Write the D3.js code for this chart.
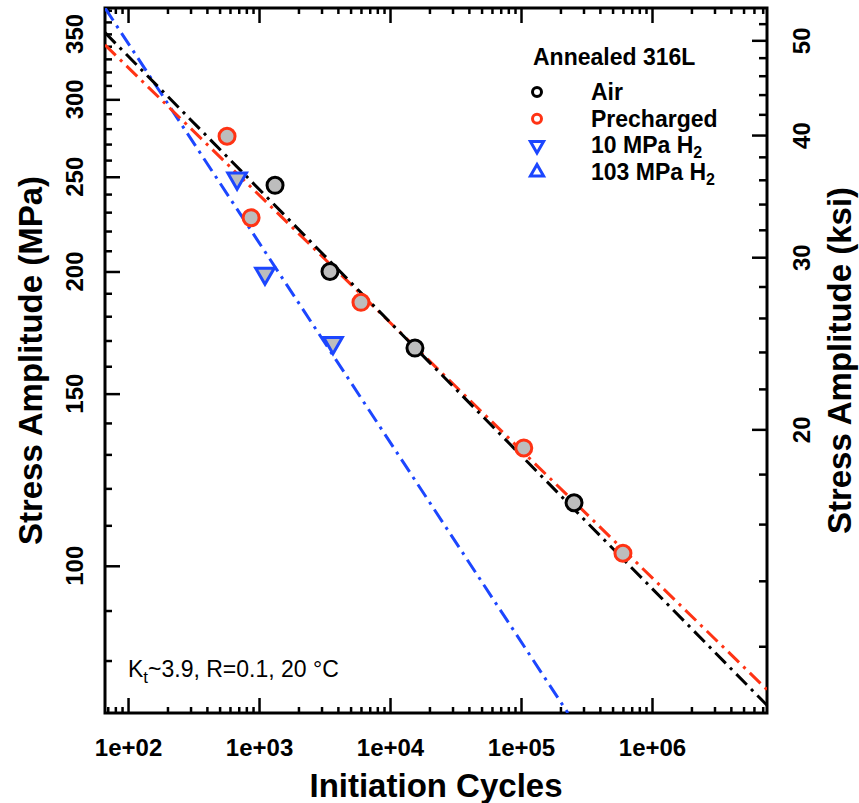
<!DOCTYPE html>
<html>
<head>
<meta charset="utf-8">
<script src="https://cdn.jsdelivr.net/npm/d3@7"></script>
<style>
  body { margin: 0; background: #fff; }
  text { font-family: "Liberation Sans", Arial, Helvetica, sans-serif; }
</style>
</head>
<body>
<div id="chart"></div>
<script>
// Data
const airN = [1325, 3480, 15500, 254000];
const airS = [245, 200, 167, 116];
const preN = [570, 870, 6000, 105000, 600000];
const preS = [275, 227, 186, 132, 103];
const h10N = [680, 1110, 3670];
const h10S = [249, 199, 169];

// fitted lines (two end points each, N vs MPa)
const fitAirN = [66.7, 7.55e6];
const fitAirS = [351, 72];
const fitPreN = [66.7, 7.55e6];
const fitPreS = [341, 74.7];
const fitH10N = [66.7, 228000];
const fitH10S = [372, 70.7];

const xMajor = [1e2, 1e3, 1e4, 1e5, 1e6];
const yLabels = [100, 150, 200, 250, 300, 350];
const ksiLabels = [20, 30, 40, 50];
const MPA_PER_KSI = 6.894757;

const dims = { width: 859, height: 803 };
const margin = { top: 8, right: 92, bottom: 90, left: 105 };
const w = dims.width - margin.left - margin.right;
const h = dims.height - margin.top - margin.bottom;

const red = "#ff3314", blue = "#1c46ff", gray = "#bdbdbd";

const svg = d3.select("#chart").append("svg")
  .attr("width", dims.width)
  .attr("height", dims.height);

const graph = svg.append("g")
  .attr("transform", `translate(${margin.left}, ${margin.top})`);

const x = d3.scaleLog().domain([66.7, 7.55e6]).range([0, w]);
const y = d3.scaleLog().domain([70.7, 372]).range([h, 0]);
const yKsi = d3.scaleLog()
  .domain(y.domain().map(d => d / MPA_PER_KSI))
  .range([h, 0]);

// minor tick values
const xMinor = [];
for (let e = 1; e <= 6; e++) {
  for (let m = 2; m <= 9; m++) {
    const v = m * Math.pow(10, e);
    if (v >= x.domain()[0] && v <= x.domain()[1]) xMinor.push(v);
  }
}
const yMinor = d3.range(80, 380, 10).filter(v => v % 50 !== 0 || v === 350);
const ksiMinor = d3.range(12, 54, 2).filter(v => v % 10 !== 0);

const fmtExp = d => "1e+" + String(Math.round(Math.log10(d))).padStart(2, "0");

// axes
const addAxis = (axis, transform) => {
  const g = graph.append("g").attr("transform", transform).call(axis);
  g.select(".domain").remove();
  g.selectAll("line").attr("stroke", "#000").attr("stroke-width", 2.5);
  return g;
};

addAxis(d3.axisBottom(x).tickValues(xMinor).tickSize(-6).tickFormat(""), `translate(0,${h})`);
const xAxisG = addAxis(d3.axisBottom(x).tickValues(xMajor).tickSize(-15).tickFormat(fmtExp), `translate(0,${h})`);
addAxis(d3.axisTop(x).tickValues(xMinor).tickSize(-6).tickFormat(""), "translate(0,0)");
addAxis(d3.axisTop(x).tickValues(xMajor).tickSize(-15).tickFormat(""), "translate(0,0)");

addAxis(d3.axisLeft(y).tickValues(yMinor).tickSize(-7).tickFormat(""), "translate(0,0)");
const yAxisG = addAxis(d3.axisLeft(y).tickValues(yLabels.filter(d => d !== 350)).tickSize(-15).tickFormat(d3.format("d")), "translate(0,0)");
addAxis(d3.axisRight(yKsi).tickValues(ksiMinor).tickSize(-8).tickFormat(""), `translate(${w},0)`);
const ksiAxisG = addAxis(d3.axisRight(yKsi).tickValues(ksiLabels).tickSize(-15).tickFormat(d3.format("d")), `translate(${w},0)`);

xAxisG.selectAll("text")
  .attr("y", 0).attr("dy", 0)
  .attr("transform", "translate(0,43)")
  .style("font-size", "24px").style("font-weight", "bold").attr("fill", "#000");

// left labels, rotated (350 has only a short tick)
graph.append("g").selectAll("text")
  .data(yLabels)
  .join("text")
  .attr("transform", d => `translate(${-22},${y(d)}) rotate(-90)`)
  .attr("text-anchor", "middle")
  .style("font-size", "24px").style("font-weight", "bold")
  .text(d => d);
yAxisG.selectAll("text").remove();

// right labels: tick groups are already translated to their y
ksiAxisG.selectAll("text")
  .attr("x", 0).attr("y", 0).attr("dy", 0)
  .attr("transform", "translate(43,0) rotate(-90)")
  .attr("text-anchor", "middle")
  .style("font-size", "24px").style("font-weight", "bold").attr("fill", "#000");

// frame
graph.append("rect")
  .attr("width", w).attr("height", h)
  .attr("fill", "none").attr("stroke", "#000").attr("stroke-width", 3);

// fit lines
graph.append("clipPath").attr("id", "clip")
  .append("rect").attr("width", w).attr("height", h);

const lineGen = d3.line().x(d => x(d[0])).y(d => y(d[1]));
const fits = [
  { n: fitH10N, s: fitH10S, color: blue },
  { n: fitPreN, s: fitPreS, color: red },
  { n: fitAirN, s: fitAirS, color: "#000" }
];
graph.append("g").attr("clip-path", "url(#clip)")
  .selectAll("path")
  .data(fits)
  .join("path")
  .attr("d", d => lineGen(d3.zip(d.n, d.s)))
  .attr("fill", "none")
  .attr("stroke", d => d.color)
  .attr("stroke-width", 3)
  .attr("stroke-dasharray", "15,6,3,6");

// points
const triDown = d3.symbol().type(d3.symbolTriangle).size(150);
graph.append("g").selectAll("path")
  .data(d3.zip(h10N, h10S))
  .join("path")
  .attr("d", triDown)
  .attr("transform", d => `translate(${x(d[0])},${y(d[1])}) rotate(180)`)
  .attr("fill", gray).attr("stroke", blue).attr("stroke-width", 3);

graph.append("g").selectAll("circle")
  .data(d3.zip(airN, airS))
  .join("circle")
  .attr("cx", d => x(d[0])).attr("cy", d => y(d[1])).attr("r", 8)
  .attr("fill", gray).attr("stroke", "#000").attr("stroke-width", 3);

graph.append("g").selectAll("circle")
  .data(d3.zip(preN, preS))
  .join("circle")
  .attr("cx", d => x(d[0])).attr("cy", d => y(d[1])).attr("r", 8)
  .attr("fill", gray).attr("stroke", red).attr("stroke-width", 3);

// legend
const legendGroup = svg.append("g").attr("transform", "translate(533, 0)");
legendGroup.append("text")
  .attr("x", 0).attr("y", 65)
  .style("font-size", "23px").style("font-weight", "bold")
  .text("Annealed 316L");

const legendItems = [
  { label: "Air", sub: "", type: "circle", color: "#000" },
  { label: "Precharged", sub: "", type: "circle", color: red },
  { label: "10 MPa H", sub: "2", type: "down", color: blue },
  { label: "103 MPa H", sub: "2", type: "up", color: blue }
];
const rows = legendGroup.selectAll("g.row")
  .data(legendItems)
  .join("g")
  .attr("class", "row")
  .attr("transform", (d, i) => `translate(0, ${92 + i * 26.7})`);

rows.filter(d => d.type === "circle").append("circle")
  .attr("cx", 4).attr("r", 4.5)
  .attr("fill", "#fff").attr("stroke", d => d.color).attr("stroke-width", 3);
rows.filter(d => d.type !== "circle").append("path")
  .attr("d", d3.symbol().type(d3.symbolTriangle).size(75))
  .attr("transform", d => `translate(4,0) rotate(${d.type === "down" ? 180 : 0})`)
  .attr("fill", "#fff").attr("stroke", d => d.color).attr("stroke-width", 3);

const labels = rows.append("text")
  .attr("x", 58).attr("y", 8)
  .style("font-size", "23px").style("font-weight", "bold");
labels.append("tspan").text(d => d.label);
labels.append("tspan").attr("dy", 5).style("font-size", "16px").text(d => d.sub);

// annotation
const note = svg.append("text")
  .attr("x", 128).attr("y", 677)
  .style("font-size", "23px");
note.append("tspan").text("K");
note.append("tspan").attr("dy", 6).style("font-size", "17px").text("t");
note.append("tspan").attr("dy", -6).text("~3.9, R=0.1, 20 °C");

// axis titles
svg.append("text")
  .attr("x", margin.left + w / 2).attr("y", 797)
  .attr("text-anchor", "middle")
  .style("font-size", "33px").style("font-weight", "bold")
  .text("Initiation Cycles");

svg.append("text")
  .attr("transform", `translate(42, ${margin.top + h / 2}) rotate(-90)`)
  .attr("text-anchor", "middle")
  .style("font-size", "33px").style("font-weight", "bold")
  .text("Stress Amplitude (MPa)");

svg.append("text")
  .attr("transform", `translate(851, ${margin.top + h / 2}) rotate(-90)`)
  .attr("text-anchor", "middle")
  .style("font-size", "33px").style("font-weight", "bold")
  .text("Stress Amplitude (ksi)");
</script>
</body>
</html>
